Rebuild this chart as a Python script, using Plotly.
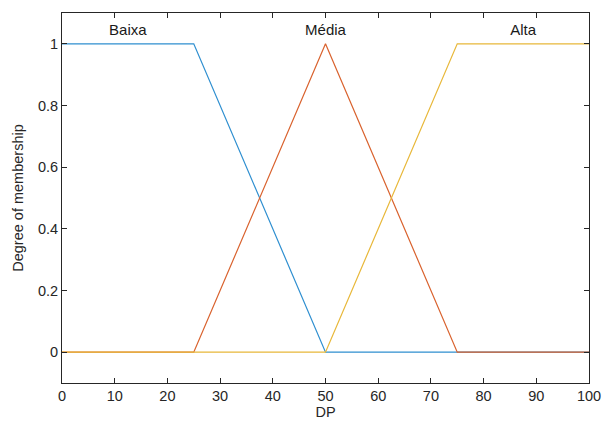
import plotly.graph_objects as go

x_baixa = [0, 25, 50, 100]
y_baixa = [1, 1, 0, 0]
x_media = [0, 25, 50, 75, 100]
y_media = [0, 0, 1, 0, 0]
x_alta = [0, 50, 75, 100]
y_alta = [0, 0, 1, 1]

labels = ["Baixa", "Média", "Alta"]
label_x = [12.5, 50, 87.5]
label_y = [1.04, 1.04, 1.04]

colors = ["#2f8fd0", "#d9622e", "#e8b83a"]
FONT = "Liberation Sans, Arial"

fig = go.Figure()
for xs, ys, c in [(x_baixa, y_baixa, colors[0]), (x_media, y_media, colors[1]), (x_alta, y_alta, colors[2])]:
    fig.add_trace(go.Scatter(x=xs, y=ys, mode="lines", line=dict(color=c, width=1.2), showlegend=False))

fig.add_trace(go.Scatter(x=label_x, y=label_y, mode="text", text=labels,
                         textfont=dict(family=FONT, size=15, color="#1a1a1a"),
                         showlegend=False))

axis_common = dict(
    showgrid=False, zeroline=False, showline=True, linecolor="#262626", linewidth=1,
    mirror="ticks", ticks="inside", ticklen=5, tickcolor="#262626", automargin=False,
    tickfont=dict(family=FONT, size=14.5, color="#262626"),
)
fig.update_xaxes(range=[0, 100], tickvals=list(range(0, 101, 10)),
                 title=dict(text="DP", font=dict(family=FONT, size=14.5, color="#262626"), standoff=2),
                 **axis_common)
fig.update_yaxes(range=[-0.1, 1.1], tickvals=[0, 0.2, 0.4, 0.6, 0.8, 1],
                 ticktext=["0", "0.2", "0.4", "0.6", "0.8", "1"],
                 title=dict(text="Degree of membership", font=dict(family=FONT, size=14.5, color="#262626"), standoff=10),
                 **axis_common)
fig.update_layout(width=604, height=426, margin=dict(l=62, r=15, t=13, b=43),
                  paper_bgcolor="white", plot_bgcolor="white")
fig.write_html("out.html")
